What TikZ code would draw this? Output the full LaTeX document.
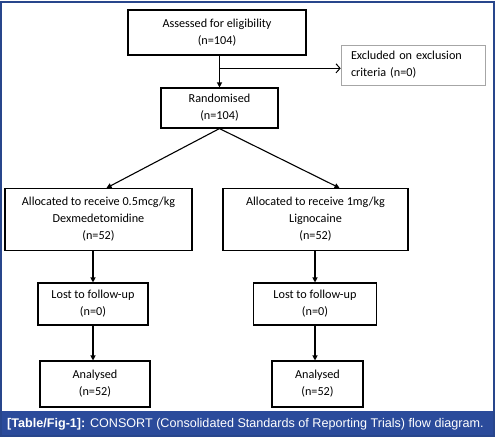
\documentclass[tikz,border=0pt]{standalone}
\usepackage{fontspec}
\setmainfont{Carlito}
\newfontfamily\capfont{Liberation Sans}
\usetikzlibrary{arrows.meta, positioning, calc}
\definecolor{frameblue}{RGB}{40,70,140}
\definecolor{bandblue}{RGB}{43,75,155}

\begin{document}
\begin{tikzpicture}[x=1pt, y=-1pt,
    >={Triangle[length=5pt,width=5pt]},
    box/.style={draw, line width=1.1pt, align=center, inner sep=0pt,
        font=\fontsize{12.2}{17}\selectfont},
    flow/.style={line width=1.1pt, ->},
]
\useasboundingbox (0,0) rectangle (498,440);

% Frame and caption band
\fill[bandblue] (1,411) rectangle (494,436);
\draw[frameblue, line width=1.5pt] (1,2) rectangle (494,436);
\node[anchor=west, text=white, inner sep=0pt,
    font=\capfont\fontsize{12.6}{14}\selectfont] (caption) at (7,424)
    {\textbf{[Table/Fig-1]:} CONSORT (Consolidated Standards of Reporting Trials) flow diagram.};

% --- Enrolment
\node[box, minimum width=178pt, minimum height=45pt] (assess) at (217,32.5)
    {Assessed for eligibility\\(n=104)};
\node[box, draw=gray!70, line width=0.6pt, align=left, inner xsep=10pt,
    text width=124pt, minimum height=40pt] (excl) at (413,65)
    {Excluded on exclusion\\criteria (n=0)};
\node[box, minimum width=117pt, minimum height=40pt] (rand) at (219.5,108)
    {Randomised\\(n=104)};

\draw[flow] (assess.south -| rand.north) -- (rand.north);
\coordinate (branch) at ($(assess.south -| rand.north)!0.4!(rand.north)$);
\draw[line width=1pt, -{Straight Barb[length=4pt,width=9pt]}] (branch) -- (branch -| excl.west);

% --- Allocation
\node[box, minimum width=187pt, minimum height=62pt] (dex) at (98.5,219.5)
    {Allocated to receive 0.5mcg/kg\\Dexmedetomidine\\(n=52)};
\node[box, minimum width=185pt, minimum height=62pt] (lig) at (315.5,219.5)
    {Allocated to receive 1mg/kg\\Lignocaine\\(n=52)};

\draw[flow] (rand.south) -- ([xshift=8pt]dex.north);
\draw[flow] (rand.south) -- ([xshift=24pt]lig.north);

% --- Follow-up
\node[box, minimum width=110pt, minimum height=42pt] (lostL) at (93,304)
    {Lost to follow-up\\(n=0)};
\node[box, minimum width=123pt, minimum height=42pt] (lostR) at (315,304)
    {Lost to follow-up\\(n=0)};

\draw[flow] (dex.south -| lostL.north) -- (lostL.north);
\draw[flow] (lig.south -| lostR.north) -- (lostR.north);

% --- Analysis
\node[box, minimum width=110pt, minimum height=46pt] (anaL) at (95,384)
    {Analysed\\(n=52)};
\node[box, minimum width=91pt, minimum height=46pt] (anaR) at (317.5,384)
    {Analysed\\(n=52)};

\draw[flow] (lostL.south) -- (lostL.south |- anaL.north);
\draw[flow] (lostR.south) -- (lostR.south |- anaR.north);

\end{tikzpicture}
\end{document}
